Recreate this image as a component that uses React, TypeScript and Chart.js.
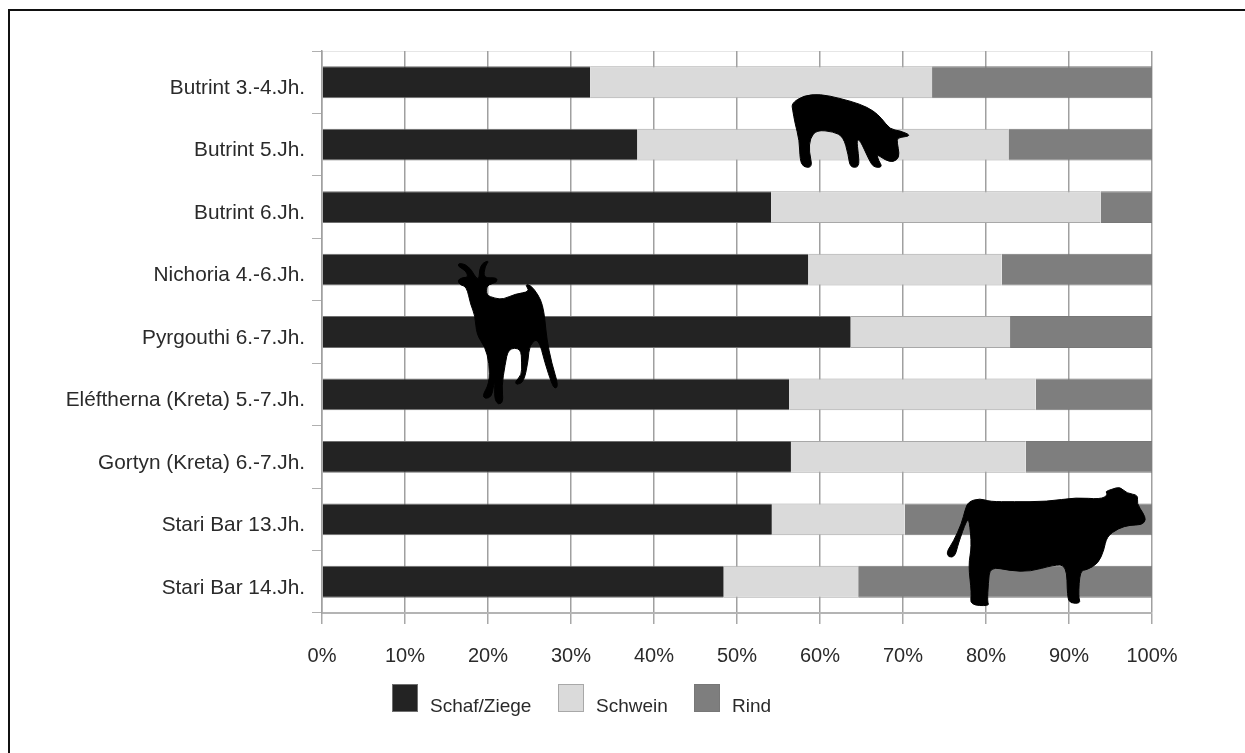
import React, { useEffect, useRef } from "react";
import { Chart, registerables } from "chart.js";

Chart.register(...registerables);

const categories = [
  "Butrint 3.-4.Jh.",
  "Butrint 5.Jh.",
  "Butrint 6.Jh.",
  "Nichoria 4.-6.Jh.",
  "Pyrgouthi 6.-7.Jh.",
  "Eléftherna (Kreta) 5.-7.Jh.",
  "Gortyn (Kreta) 6.-7.Jh.",
  "Stari Bar 13.Jh.",
  "Stari Bar 14.Jh.",
];
const schafZiege = [32.3, 38.0, 54.1, 58.6, 63.7, 56.3, 56.5, 54.2, 48.4];
const schwein = [41.2, 44.7, 39.7, 23.3, 19.2, 29.7, 28.3, 16.0, 16.2];
const rind = [26.5, 17.3, 6.2, 18.1, 17.1, 14.0, 15.2, 29.8, 35.4];

const FONT = "'Liberation Sans', Arial, sans-serif";

// Decorative animal silhouettes (outlines drawn at 3x, placed on the page by origin).
const pigOutline: number[][] = [
  [95,70],[130,47],[180,42],[240,55],[300,72],[340,92],[365,115],[390,148],[420,152],[455,167],[420,172],[410,178],[415,205],[418,232],[400,247],[375,240],[350,222],[355,240],[368,262],[340,262],[325,235],[300,180],[290,180],[295,220],[298,262],[270,262],[265,225],[250,170],[220,155],[170,150],[150,175],[147,215],[158,262],[130,262],[120,240],[118,180],[105,130],[98,90],
];
const goatOutline: number[][] = [
  [52,90],[70,82],[85,82],[78,62],[55,50],[55,40],[75,42],[95,60],[108,85],[118,85],[118,60],[128,38],[148,32],[135,48],[130,85],[170,82],[172,97],[140,105],[138,135],[165,145],[190,148],[225,132],[270,125],[255,103],[272,105],[295,135],[308,165],[315,210],[320,265],[335,340],[355,405],[345,418],[335,400],[315,340],[295,262],[268,285],[265,330],[252,395],[230,405],[225,395],[245,375],[245,340],[243,295],[205,295],[195,345],[185,410],[190,455],[175,465],[163,445],[165,390],[160,410],[155,440],[135,447],[128,435],[148,400],[148,340],[135,290],[110,255],[105,195],[92,165],[80,110],[60,105],
];
const cowOutline: number[][] = [
  [115,155],[150,145],[180,155],[250,155],[350,155],[440,142],[510,148],[535,135],[525,125],[545,118],[570,110],[590,130],[625,135],[620,160],[640,190],[648,210],[635,225],[600,225],[565,235],[530,260],[522,300],[505,340],[470,360],[450,362],[445,440],[452,460],[420,460],[412,440],[410,345],[370,345],[300,365],[240,362],[180,350],[175,400],[172,455],[178,468],[120,465],[125,430],[115,345],[125,290],[118,210],[110,210],[85,280],[75,320],[55,322],[50,305],[70,275],[95,220],[105,180],
];
const animals: { outline: number[][]; at: number[] }[] = [
  { outline: pigOutline, at: [760, 80] },
  { outline: goatOutline, at: [440, 250] },
  { outline: cowOutline, at: [930, 450] },
];

const silhouettes = {
  id: "silhouettes",
  afterDatasetsDraw(chart: any) {
    const { ctx } = chart;
    ctx.save();
    ctx.fillStyle = "#000";
    ctx.strokeStyle = "#000";
    ctx.lineWidth = 1;
    ctx.lineJoin = "round";
    animals.forEach(({ outline, at }) => {
      const pts = outline.map((p) => [at[0] + p[0] / 3, at[1] + p[1] / 3]);
      const n = pts.length;
      const mid = (a: number[], b: number[]) => [(a[0] + b[0]) / 2, (a[1] + b[1]) / 2];
      const start = mid(pts[n - 1], pts[0]);
      ctx.beginPath();
      ctx.moveTo(start[0], start[1]);
      pts.forEach((p, i) => {
        const m = mid(p, pts[(i + 1) % n]);
        ctx.quadraticCurveTo(p[0], p[1], m[0], m[1]);
      });
      ctx.closePath();
      ctx.fill();
      ctx.stroke();
    });
    ctx.restore();
  },
};

const frame = {
  id: "frame",
  beforeDraw(chart: any) {
    const { ctx, width, height, chartArea } = chart;
    ctx.save();
    ctx.fillStyle = "#fff";
    ctx.fillRect(0, 0, width, height);
    ctx.strokeStyle = "#111";
    ctx.lineWidth = 2;
    ctx.beginPath();
    ctx.moveTo(9, height);
    ctx.lineTo(9, 10);
    ctx.lineTo(width, 10);
    ctx.stroke();
    ctx.strokeStyle = "#e6e6e6";
    ctx.lineWidth = 1;
    ctx.beginPath();
    ctx.moveTo(chartArea.left, chartArea.top + 0.5);
    ctx.lineTo(chartArea.right, chartArea.top + 0.5);
    ctx.stroke();
    ctx.restore();
  },
};

const legendRow = {
  id: "legendRow",
  afterDraw(chart: any) {
    const { ctx, data } = chart;
    const spots = [392, 558, 694];
    const textAt = [430, 596, 732];
    ctx.save();
    ctx.font = `19px ${FONT}`;
    ctx.textBaseline = "alphabetic";
    ctx.textAlign = "left";
    data.datasets.forEach((ds: any, i: number) => {
      ctx.fillStyle = ds.backgroundColor;
      ctx.fillRect(spots[i], 684, 26, 28);
      ctx.strokeStyle = ds.borderColor;
      ctx.lineWidth = 1;
      ctx.strokeRect(spots[i] + 0.5, 684.5, 25, 27);
      ctx.fillStyle = "#2a2a2a";
      ctx.fillText(ds.label, textAt[i], 712);
    });
    ctx.restore();
  },
};

export default function App() {
  const ref = useRef<HTMLCanvasElement | null>(null);
  useEffect(() => {
    if (!ref.current) return;
    const chart = new Chart(ref.current, {
      type: "bar",
      data: {
        labels: categories,
        datasets: [
          { label: "Schaf/Ziege", data: schafZiege, backgroundColor: "#232323", borderColor: "#6f6f6f", borderWidth: { top: 1, bottom: 1 }, borderSkipped: false },
          { label: "Schwein", data: schwein, backgroundColor: "#dadada", borderColor: "#a8a8a8", borderWidth: { top: 1, bottom: 1 }, borderSkipped: false },
          { label: "Rind", data: rind, backgroundColor: "#7e7e7e", borderColor: "#777777", borderWidth: { top: 1, bottom: 1 }, borderSkipped: false },
        ],
      },
      options: {
        indexAxis: "y",
        animation: false,
        responsive: false,
        barPercentage: 0.51,
        categoryPercentage: 1,
        layout: { padding: { left: 0, right: 93, top: 51, bottom: 0 } },
        plugins: { legend: { display: false }, title: { display: false }, tooltip: { enabled: false } },
        scales: {
          x: {
            stacked: true,
            min: 0,
            max: 100,
            position: "bottom",
            afterFit(s: any) { s.height = 140; s.paddingRight = 0; s.paddingLeft = 0; },
            grid: { color: "#a0a0a0", lineWidth: 1.5, drawTicks: true, tickLength: 11, tickColor: "#a8a8a8" },
            border: { color: "#b4b4b4", width: 2 },
            ticks: { stepSize: 10, maxRotation: 0, padding: 20, color: "#2a2a2a", font: { family: FONT, size: 20 }, callback: (v: any) => `${v}%` },
          },
          y: {
            stacked: true,
            afterFit(s: any) { s.width = 322; s.paddingTop = 0; s.paddingBottom = 0; },
            grid: { drawOnChartArea: false, color: "#b0b0b0", tickLength: 10, offset: true },
            border: { color: "#a0a0a0", width: 1.5 },
            ticks: { color: "#2a2a2a", padding: 7, labelOffset: 6, font: { family: FONT, size: 20.8 }, autoSkip: false },
          },
        },
      },
      plugins: [frame, silhouettes, legendRow],
    } as any);
    return () => chart.destroy();
  }, []);
  return <canvas ref={ref} width={1245} height={753} style={{ display: "block", position: "fixed", left: 0, top: 0 }} />;
}
